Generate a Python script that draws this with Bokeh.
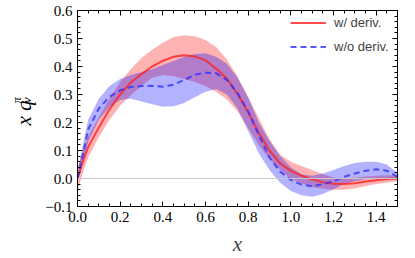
import math
from bokeh.plotting import figure
from bokeh.layouts import row
from bokeh.models import (ColumnDataSource, FixedTicker, CustomJSTickFormatter, LinearAxis,
                          Span, Label, Legend, LegendItem, Range1d)
from bokeh.embed import file_html
from bokeh.resources import INLINE

# ---------------- data ----------------
xs = [0.0, 0.025, 0.05, 0.1, 0.15, 0.2, 0.25, 0.3, 0.35, 0.4, 0.45, 0.5, 0.55, 0.6, 0.65,
      0.7, 0.75, 0.8, 0.85, 0.9, 0.95, 1.0, 1.05, 1.1, 1.15, 1.2, 1.25, 1.3, 1.35, 1.4,
      1.45, 1.5]

with_deriv = [0.0, 0.06, 0.113, 0.182, 0.247, 0.30, 0.343, 0.373, 0.40, 0.42, 0.435, 0.44,
              0.436, 0.422, 0.392, 0.357, 0.302, 0.237, 0.163, 0.10, 0.054, 0.027, 0.01,
              -0.003, -0.013, -0.019, -0.02, -0.017, -0.011, -0.006, -0.002, 0.0]
with_deriv_lo = [-0.045, 0.02, 0.075, 0.148, 0.21, 0.26, 0.297, 0.33, 0.36, 0.37, 0.365,
                 0.355, 0.345, 0.33, 0.31, 0.282, 0.24, 0.18, 0.12, 0.07, 0.03, 0.0, -0.017,
                 -0.03, -0.037, -0.04, -0.04, -0.035, -0.028, -0.02, -0.015, -0.01]
with_deriv_hi = [0.04, 0.10, 0.15, 0.22, 0.285, 0.345, 0.39, 0.43, 0.46, 0.485, 0.505, 0.512,
                 0.508, 0.495, 0.47, 0.425, 0.365, 0.29, 0.215, 0.14, 0.085, 0.06, 0.045,
                 0.03, 0.015, 0.004, 0.0, 0.003, 0.007, 0.01, 0.012, 0.01]

without_deriv = [0.0, 0.085, 0.175, 0.25, 0.292, 0.315, 0.327, 0.33, 0.331, 0.328, 0.335,
                 0.352, 0.37, 0.378, 0.376, 0.352, 0.305, 0.24, 0.155, 0.075, 0.024, -0.005,
                 -0.022, -0.028, -0.02, -0.01, 0.006, 0.018, 0.028, 0.033, 0.028, 0.006]
without_deriv_lo = [-0.01, 0.05, 0.13, 0.21, 0.255, 0.28, 0.285, 0.275, 0.265, 0.256, 0.258,
                    0.27, 0.29, 0.31, 0.32, 0.30, 0.25, 0.17, 0.09, 0.03, -0.015, -0.045,
                    -0.06, -0.065, -0.055, -0.038, -0.02, -0.01, -0.003, 0.0, 0.0, -0.005]
without_deriv_hi = [0.02, 0.12, 0.21, 0.285, 0.33, 0.355, 0.37, 0.38, 0.39, 0.405, 0.42,
                    0.435, 0.445, 0.447, 0.435, 0.41, 0.36, 0.29, 0.20, 0.135, 0.08, 0.04,
                    0.015, 0.01, 0.018, 0.03, 0.045, 0.055, 0.06, 0.06, 0.05, 0.02]

series_labels = ["w/ deriv.", "w/o deriv."]
x_ticks = [0.0, 0.2, 0.4, 0.6, 0.8, 1.0, 1.2, 1.4]
y_ticks = [-0.1, 0.0, 0.1, 0.2, 0.3, 0.4, 0.5, 0.6]
x_label = "x"
y_label_main = "x q"
y_label_sub = "v"
y_label_sup = "\u03c0"

# ---------------- styling ----------------
RED = "#ff2020"
BLUE = "#3030ff"
SERIF = "Liberation Serif"
SANS = "Liberation Sans"
LEFT_W = 40      # width of the strip that carries the y-axis title
TOTAL_W, TOTAL_H = 415, 258

src = ColumnDataSource(dict(x=xs, r=with_deriv, rlo=with_deriv_lo, rhi=with_deriv_hi,
                            b=without_deriv, blo=without_deriv_lo, bhi=without_deriv_hi))

# ---- strip with the rotated y-axis title (pixel coordinates, y upward) ----
lab = figure(width=LEFT_W, height=TOTAL_H, output_backend="svg", toolbar_location=None,
             x_range=Range1d(0, LEFT_W), y_range=Range1d(0, TOTAL_H),
             x_axis_type=None, y_axis_type=None,
             min_border_left=0, min_border_right=0, min_border_top=0, min_border_bottom=0)
lab.outline_line_color = None
lab.xgrid.visible = False
lab.ygrid.visible = False
lab.background_fill_color = "white"
lab.border_fill_color = "white"


def rot_label(x, y, text, size):
    return Label(x=x, y=TOTAL_H - y, text=text, angle=math.pi / 2,
                 text_font=SERIF, text_font_style="italic", text_font_size=size,
                 text_align="center", text_baseline="middle", text_color="black")


lab.add_layout(rot_label(23, 135, y_label_main, "21px"))
lab.add_layout(rot_label(16, 118, y_label_sup, "12px"))
lab.add_layout(rot_label(26, 118, y_label_sub, "13px"))

# ---- main chart: frame left 77, right 397, top 10, bottom 207 (page pixels) ----
p = figure(width=TOTAL_W - LEFT_W, height=TOTAL_H, output_backend="svg",
           toolbar_location=None, x_range=Range1d(0, 1.5), y_range=Range1d(-0.1, 0.6),
           min_border_left=77 - LEFT_W, min_border_right=18, min_border_top=10,
           min_border_bottom=51)
p.xgrid.visible = False
p.ygrid.visible = False
p.outline_line_color = "black"
p.outline_line_width = 1
p.background_fill_color = "white"
p.border_fill_color = "white"

x_minor = [i * 0.05 for i in range(31)]
y_minor = [-0.1 + i * 0.02 for i in range(36)]
fmt = CustomJSTickFormatter(code="return tick.toFixed(1).replace('-', '\u2212');")
blank = CustomJSTickFormatter(code="return '';")


def style_axis(ax, show_labels):
    ax.axis_line_color = "black"
    ax.major_tick_line_color = "black"
    ax.minor_tick_line_color = "black"
    ax.major_tick_in = 5
    ax.major_tick_out = 0
    ax.minor_tick_in = 3
    ax.minor_tick_out = 0
    if show_labels:
        ax.major_label_text_font = SERIF
        ax.major_label_text_font_size = "15px"
        ax.major_label_text_color = "black"
        ax.major_label_standoff = 5
    else:
        ax.major_label_text_font_size = "1px"
        ax.major_label_standoff = 0


p.xaxis.ticker = FixedTicker(ticks=x_ticks, minor_ticks=x_minor)
p.yaxis.ticker = FixedTicker(ticks=y_ticks, minor_ticks=y_minor)
p.xaxis.formatter = fmt
p.yaxis.formatter = fmt
style_axis(p.xaxis[0], True)
style_axis(p.yaxis[0], True)
p.xaxis.axis_label = x_label
p.xaxis.axis_label_text_font = SERIF
p.xaxis.axis_label_text_font_style = "italic"
p.xaxis.axis_label_text_font_size = "21px"
p.xaxis.axis_label_standoff = 7

top = LinearAxis(ticker=FixedTicker(ticks=x_ticks, minor_ticks=x_minor), formatter=blank)
right = LinearAxis(ticker=FixedTicker(ticks=y_ticks, minor_ticks=y_minor), formatter=blank)
style_axis(top, False)
style_axis(right, False)
p.add_layout(top, "above")
p.add_layout(right, "right")

p.add_layout(Span(location=0, dimension="width", line_color="#c8c8c8", line_width=1))

p.varea(x="x", y1="rlo", y2="rhi", source=src, fill_color="red", fill_alpha=0.3)
p.varea(x="x", y1="blo", y2="bhi", source=src, fill_color="blue", fill_alpha=0.3)
lr = p.line(x="x", y="r", source=src, line_color=RED, line_width=2, line_alpha=0.8)
lb = p.line(x="x", y="b", source=src, line_color=BLUE, line_width=2, line_alpha=0.8,
            line_dash="6 4")

legend = Legend(items=[LegendItem(label=series_labels[0], renderers=[lr]),
                       LegendItem(label=series_labels[1], renderers=[lb])],
                location=(213, 149), padding=0, margin=0, spacing=3,
                glyph_width=36, glyph_height=21, label_standoff=8,
                label_text_font=SANS, label_text_font_size="13px",
                border_line_color=None, background_fill_alpha=0)
p.add_layout(legend, "center")

layout = row(lab, p, spacing=0)
open("out.html", "w").write(file_html(layout, INLINE))
